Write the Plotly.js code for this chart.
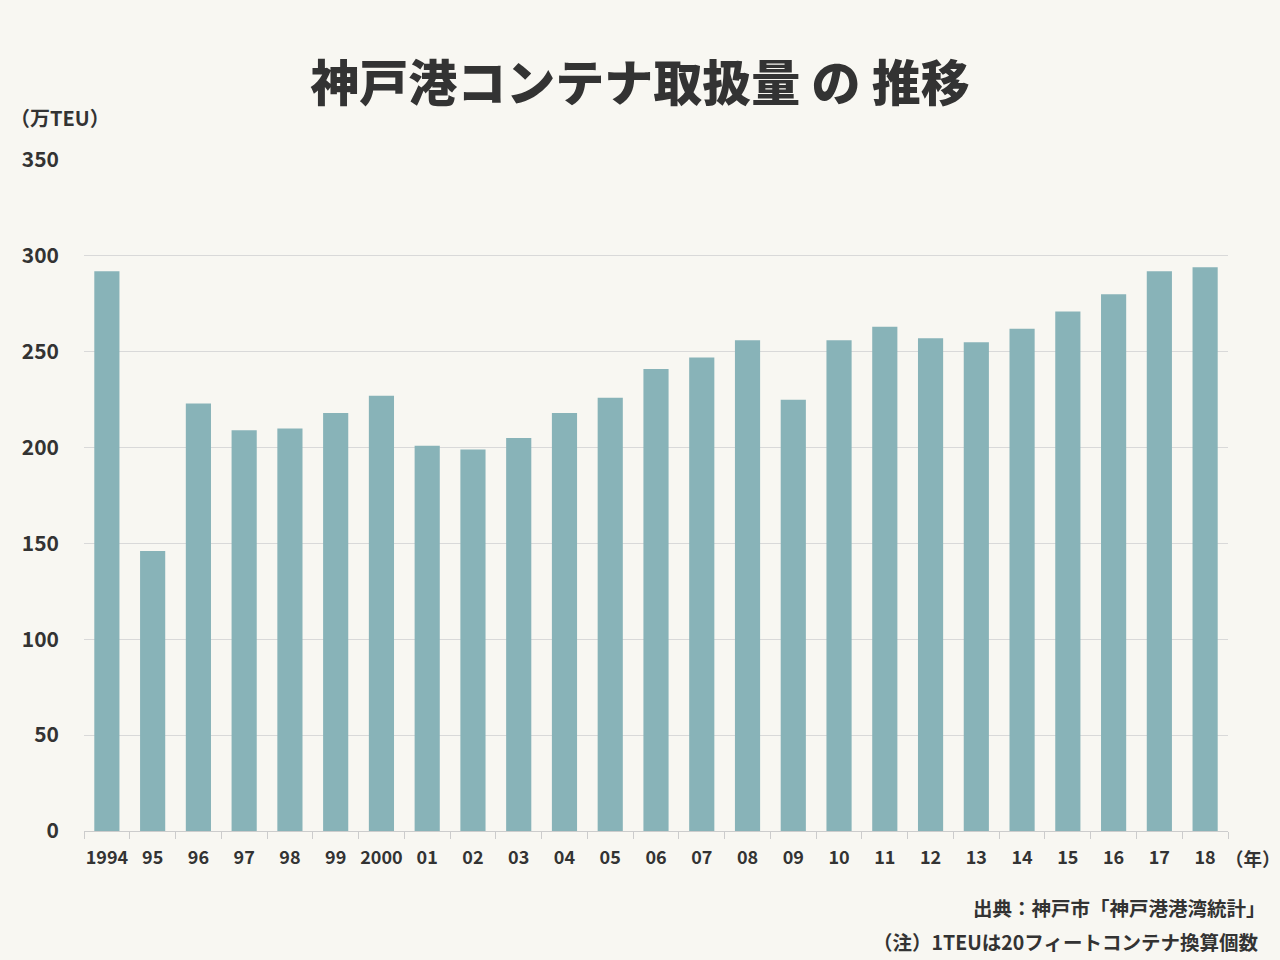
<!DOCTYPE html>
<html><head><meta charset="utf-8">
<script src="https://cdn.plot.ly/plotly-3.0.1.min.js"></script>
<style>body{margin:0;background:#f8f7f2;}#chart{width:1280px;height:960px;}</style>
</head><body><div id="chart"></div>
<script>
const years = ["1994","95","96","97","98","99","2000","01","02","03","04","05","06","07","08","09","10","11","12","13","14","15","16","17","18"];
const teu = [292,146,223,209,210,218,227,201,199,205,218,226,241,247,256,225,256,263,257,255,262,271,280,292,294];
const yTicks = [0,50,100,150,200,250,300,350];

const FONT = "'Noto Sans CJK JP', 'Noto Sans', sans-serif";
const TXT = "#333333";

const trace = {
  type: "bar", x: years, y: teu,
  marker: {color: "#88b3b8"},
  hoverinfo: "x+y"
};
const layout = {
  width: 1280, height: 960,
  paper_bgcolor: "#f8f7f2", plot_bgcolor: "#f8f7f2",
  margin: {l: 84, r: 52, t: 160, b: 129},
  font: {family: FONT, color: TXT, size: 17, weight: 700},
  title: {text: "神戸港コンテナ取扱量 の 推移", x: 0.5, xanchor: "center", y: 0.913, yanchor: "middle",
          font: {family: FONT, size: 49, color: TXT, weight: 900}},
  bargap: 0.45,
  showlegend: false,
  xaxis: {type: "category", tickson: "boundaries", ticks: "outside", ticklen: 7, tickcolor: "#cccccc",
          showline: true, linecolor: "#cccccc", linewidth: 1, showgrid: false, tickangle: 0,
          ticklabelstandoff: 10,
          tickfont: {family: FONT, size: 18, color: TXT, weight: 700}, automargin: false},
  yaxis: {range: [0, 350], tickvals: yTicks, ticktext: yTicks.map(String), showgrid: true, gridcolor: "#d9d9d9",
          zeroline: false, showline: false, ticks: "", ticklabelstandoff: 24,
          tickfont: {family: FONT, size: 21, color: TXT, weight: 700}, automargin: false},
  annotations: [
    {text: "（万TEU）", xref: "paper", yref: "paper", x: -0.066, y: 1.0626, xanchor: "left", yanchor: "middle", showarrow: false,
     font: {family: FONT, size: 20, color: TXT, weight: 700}},
    {text: "（年）", xref: "paper", yref: "paper", x: 0.9965, y: -0.04, xanchor: "left", yanchor: "middle", showarrow: false,
     borderpad: 0, font: {family: FONT, size: 18.5, color: TXT, weight: 700}},
    {text: "出典：神戸市「神戸港港湾統計」", xref: "paper", yref: "paper", x: 1.035, y: -0.114, xanchor: "right", yanchor: "middle", showarrow: false,
     font: {family: FONT, size: 19.5, color: TXT, weight: 700}},
    {text: "（注）1TEUは20フィートコンテナ換算個数", xref: "paper", yref: "paper", x: 1.028, y: -0.164, xanchor: "right", yanchor: "middle", showarrow: false,
     font: {family: FONT, size: 19.5, color: TXT, weight: 700}}
  ]
};
Plotly.newPlot("chart", [trace], layout, {displayModeBar: false});
</script></body></html>
